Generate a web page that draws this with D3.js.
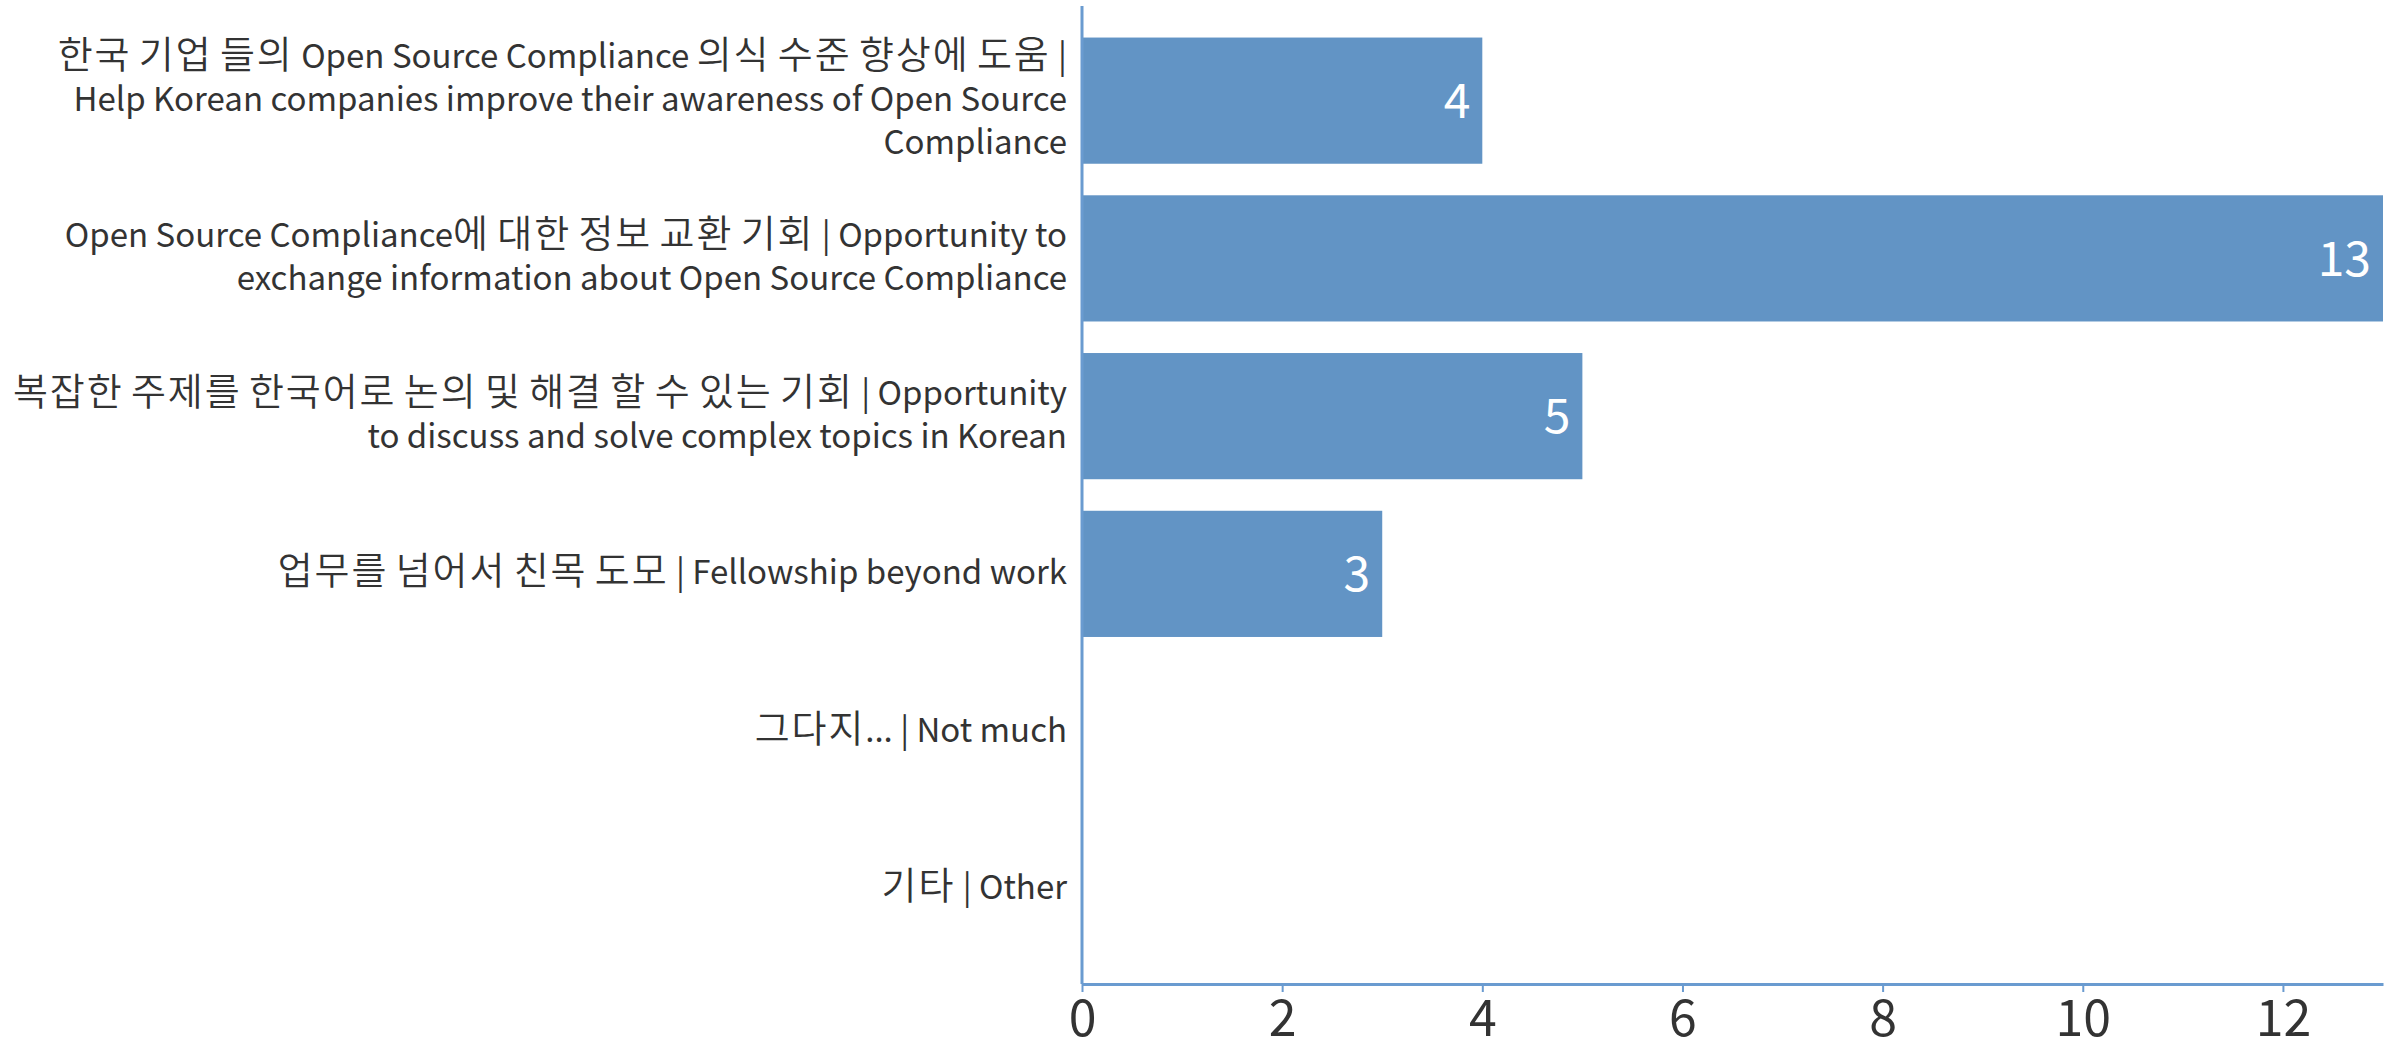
<!DOCTYPE html>
<html>
<head>
<meta charset="utf-8">
<script src="https://cdn.jsdelivr.net/npm/d3@7"></script>
<style>
  body { margin: 0; background: #fff; }
  svg { display: block; font-family: "Noto Sans CJK KR", "Noto Sans", sans-serif; }
</style>
</head>
<body>
<svg id="chart" width="2399" height="1050"></svg>
<script>
// categories (line breaks as in the original)
const categories = [
  "한국 기업 들의 Open Source Compliance 의식 수준 향상에 도움 |\nHelp Korean companies improve their awareness of Open Source\nCompliance",
  "Open Source Compliance에 대한 정보 교환 기회 | Opportunity to\nexchange information about Open Source Compliance",
  "복잡한 주제를 한국어로 논의 및 해결 할 수 있는 기회 | Opportunity\nto discuss and solve complex topics in Korean",
  "업무를 넘어서 친목 도모 | Fellowship beyond work",
  "그다지... | Not much",
  "기타 | Other"
];
const counts = [4, 13, 5, 3, 0, 0];
const xTicks = [0, 2, 4, 6, 8, 10, 12];

const barColor = "#6294c5";
const axisColor = "#6a9bd0";
const textColor = "#333333";

const margin = { top: 6, right: 16, bottom: 66, left: 1082 };
const width = 2399, height = 1050;

const svg = d3.select("#chart");

const x = d3.scaleLinear()
  .domain([0, 13])
  .range([margin.left, width - margin.right]);

const y = d3.scaleBand()
  .domain(categories)
  .range([margin.top, height - margin.bottom])
  .paddingInner(0.2)
  .paddingOuter(0.2);

// bars
svg.append("g")
  .selectAll("rect")
  .data(categories)
  .join("rect")
  .attr("x", x(0))
  .attr("y", d => y(d))
  .attr("width", (d, i) => x(counts[i]) - x(0))
  .attr("height", y.bandwidth())
  .attr("fill", barColor);

// value labels inside bars
svg.append("g")
  .selectAll("text")
  .data(categories.filter((d, i) => counts[i] > 0))
  .join("text")
  .attr("x", d => x(counts[categories.indexOf(d)]) - 12)
  .attr("y", d => y(d) + y.bandwidth() / 2)
  .attr("dy", "0.36em")
  .attr("text-anchor", "end")
  .attr("fill", "#fff")
  .style("font-size", "48px")
  .text(d => counts[categories.indexOf(d)]);

// x axis
const xAxis = svg.append("g")
  .attr("transform", `translate(0,${height - margin.bottom})`)
  .call(d3.axisBottom(x).tickValues(xTicks).tickSize(8).tickSizeOuter(0).tickPadding(8));

xAxis.select(".domain")
  .attr("stroke", axisColor)
  .attr("stroke-width", 3);
xAxis.selectAll(".tick line")
  .attr("stroke", axisColor)
  .attr("stroke-width", 2);
xAxis.selectAll(".tick text")
  .attr("fill", textColor)
  .style("font-size", "50px")
  .style("font-family", "\"Noto Sans CJK KR\", sans-serif");

// y axis line
svg.append("line")
  .attr("x1", x(0))
  .attr("x2", x(0))
  .attr("y1", margin.top)
  .attr("y2", height - margin.bottom)
  .attr("stroke", axisColor)
  .attr("stroke-width", 3);

// category labels - hangul runs are drawn a bit larger than latin, like the original
const lineHeight = 43;
const hangul = /([\uAC00-\uD7A3]+)/;
const labels = svg.append("g")
  .selectAll("text")
  .data(categories)
  .join("text")
  .attr("x", x(0) - 15)
  .attr("y", d => y(d) + y.bandwidth() / 2)
  .attr("text-anchor", "end")
  .attr("fill", textColor)
  .style("font-size", "33px");

labels.each(function(d) {
  const lines = d.split("\n");
  const t = d3.select(this);
  lines.forEach((line, i) => {
    const row = t.append("tspan")
      .attr("x", x(0) - 15)
      .attr("dy", i === 0 ? `${(-(lines.length - 1) / 2) * lineHeight + 10}px` : `${lineHeight}px`);
    line.split(hangul).filter(s => s.length).forEach(part => {
      const run = row.append("tspan").text(part);
      if (hangul.test(part)) {
        run.style("font-size", "38px")
          .style("font-weight", 350)
          .style("letter-spacing", "1.9px");
      }
    });
  });
});
</script>
</body>
</html>
